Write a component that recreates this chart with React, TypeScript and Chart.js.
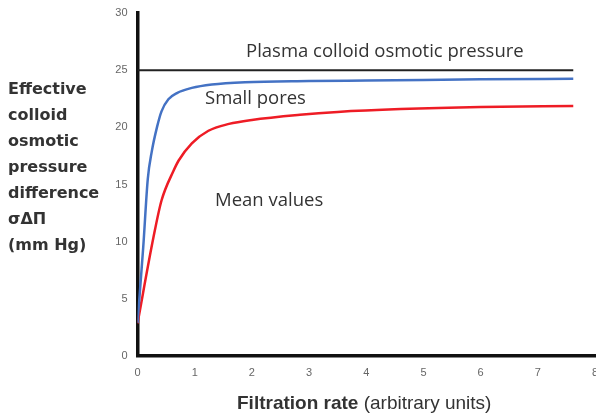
import React, { useEffect, useRef } from "react";
import { Chart, registerables } from "chart.js";

Chart.register(...registerables);

// Small pores curve
const smallPoresX = [0, 0.1, 0.18, 0.25, 0.34, 0.42, 0.54, 0.69, 0.95, 1.3, 1.88, 3.0, 4.0, 5.0, 6.0, 7.62];
const smallPoresY = [2.9, 9.5, 15.5, 17.9, 20.0, 21.4, 22.45, 23.0, 23.45, 23.75, 23.95, 24.05, 24.1, 24.15, 24.2, 24.25];

// Mean values curve
const meanX = [0, 0.28, 0.42, 0.63, 0.72, 0.95, 1.24, 1.6, 2.0, 2.84, 3.5, 4.6, 6.0, 7.62];
const meanY = [2.85, 10.4, 13.6, 16.2, 17.1, 18.6, 19.7, 20.3, 20.65, 21.1, 21.35, 21.6, 21.78, 21.86];

// Plasma colloid osmotic pressure reference line
const plasmaX = [0, 7.62];
const plasmaY = [25, 25];

const xTicks = [0, 1, 2, 3, 4, 5, 6, 7, 8];
const yTicks = [0, 5, 10, 15, 20, 25, 30];

const yTitleLines = ["Effective", "colloid", "osmotic", "pressure", "difference", "σΔΠ", "(mm Hg)"];

const toPoints = (xs: number[], ys: number[]) => xs.map((x, i) => ({ x, y: ys[i] }));

const textPlugin = {
  id: "textPlugin",
  afterDraw(chart: any) {
    const ctx: CanvasRenderingContext2D = chart.ctx;
    ctx.save();
    ctx.fillStyle = "#333";
    ctx.textBaseline = "alphabetic";
    ctx.textAlign = "left";
    ctx.font = '18.5px "Open Sans"';
    ctx.fillText("Plasma colloid osmotic pressure", 246, 57);
    ctx.fillText("Small pores", 205, 104);
    ctx.fillText("Mean values", 215, 206);

    ctx.font = 'bold 16px "DejaVu Sans"';
    yTitleLines.forEach((line, i) => {
      ctx.fillText(line, 8, 94 + i * 26);
    });

    ctx.font = 'bold 19px "Liberation Sans"';
    const bold = "Filtration rate";
    ctx.fillText(bold, 237, 409);
    const w = ctx.measureText(bold + " ").width;
    ctx.font = '19px "Liberation Sans"';
    ctx.fillText("(arbitrary units)", 237 + w, 409);
    ctx.restore();
  },
};

const zeroPad = (axis: any) => {
  axis.paddingLeft = 0;
  axis.paddingRight = 0;
  axis.paddingTop = 0;
  axis.paddingBottom = 0;
};

export default function App() {
  const ref = useRef<HTMLCanvasElement | null>(null);
  useEffect(() => {
    if (!ref.current) return;
    const chart = new Chart(ref.current, {
      type: "line",
      data: {
        datasets: [
          {
            label: "Plasma colloid osmotic pressure",
            data: toPoints(plasmaX, plasmaY),
            borderColor: "#222",
            borderWidth: 2,
            pointRadius: 0,
          },
          {
            label: "Small pores",
            data: toPoints(smallPoresX, smallPoresY),
            borderColor: "#4472C4",
            borderWidth: 2.5,
            pointRadius: 0,
            cubicInterpolationMode: "monotone",
          },
          {
            label: "Mean values",
            data: toPoints(meanX, meanY),
            borderColor: "#EE1C25",
            borderWidth: 2.5,
            pointRadius: 0,
            cubicInterpolationMode: "monotone",
          },
        ],
      },
      options: {
        animation: false,
        responsive: false,
        layout: { padding: { top: 13, left: 0, right: 1, bottom: 0 }, autoPadding: false },
        plugins: { legend: { display: false }, tooltip: { enabled: false } },
        scales: {
          x: {
            type: "linear",
            min: 0,
            max: 8,
            afterBuildTicks: (axis: any) => {
              axis.ticks = xTicks.map((v) => ({ value: v }));
            },
            afterFit: (axis: any) => {
              axis.height = 61;
              zeroPad(axis);
            },
            ticks: { color: "#666", font: { family: '"Liberation Sans"', size: 11 }, padding: 10, maxRotation: 0 },
            grid: { display: false, drawTicks: false },
            border: { display: true, color: "#111", width: 3.5 },
          },
          y: {
            type: "linear",
            min: 0,
            max: 30,
            afterBuildTicks: (axis: any) => {
              axis.ticks = yTicks.map((v) => ({ value: v }));
            },
            afterFit: (axis: any) => {
              axis.width = 137.5;
              zeroPad(axis);
            },
            ticks: { color: "#666", font: { family: '"Liberation Sans"', size: 11 }, padding: 10 },
            grid: { display: false, drawTicks: false },
            border: { display: true, color: "#111", width: 3.5 },
          },
        },
      },
      plugins: [textPlugin],
    });
    return () => chart.destroy();
  }, []);
  return (
    <div style={{ position: "absolute", left: 0, top: 0, width: 596, height: 417, background: "#fff" }}>
      <canvas ref={ref} width={596} height={417} />
    </div>
  );
}
